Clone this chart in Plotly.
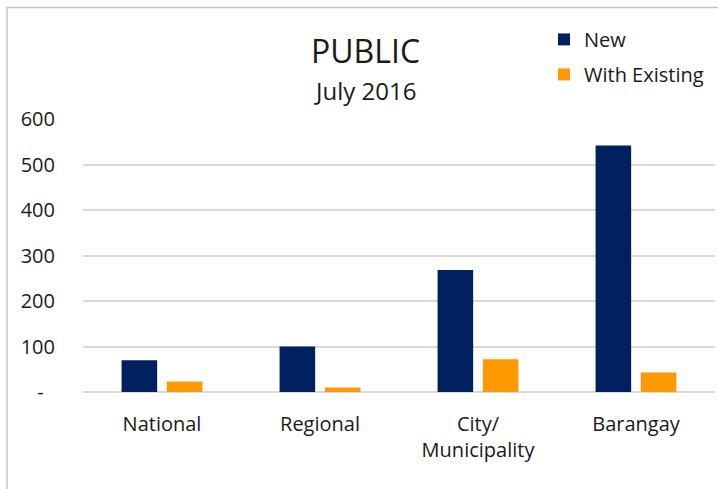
import plotly.graph_objects as go

categories = ["National", "Regional", "City/<br>Municipality", "Barangay"]
new_values = [70, 100, 268, 542]
existing_values = [23, 10, 72, 43]
tick_vals = [0, 100, 200, 300, 400, 500, 600]
tick_text = ["-\u2007", "100", "200", "300", "400", "500", "600"]

FONT = "Open Sans"
TXT = "#1a1a1a"

fig = go.Figure()
fig.add_trace(go.Bar(x=categories, y=new_values, name="New",
                     marker=dict(color="#002060", line=dict(width=0)),
                     legendgroup="a"))
fig.add_trace(go.Bar(x=categories, y=existing_values, name="With Existing",
                     marker=dict(color="#FF9900", line=dict(width=0)),
                     legendgroup="b"))

L, R, T, B = 83, 3, 118.7, 97
W, H = 718, 489
pw = W - L - R
ph = H - T - B

def px_x(x):
    return (x - L) / pw

def px_y(y):
    return (H - B - y) / ph

fig.update_layout(
    width=W, height=H,
    margin=dict(l=L, r=R, t=T, b=B, pad=0),
    paper_bgcolor="white", plot_bgcolor="white",
    barmode="group", bargap=0.427, bargroupgap=0.214,
    font=dict(family=FONT, size=20, color=TXT),
    showlegend=True,
    legend=dict(x=px_x(544), y=px_y(19.5), xanchor="left", yanchor="top",
                font=dict(family=FONT, size=20, color=TXT),
                traceorder="grouped", tracegroupgap=6,
                bgcolor="rgba(0,0,0,0)", itemwidth=30),
    xaxis=dict(showgrid=False, showline=False, ticks="",
               tickfont=dict(family=FONT, size=20, color=TXT),
               ticklabelstandoff=18, fixedrange=True),
    yaxis=dict(range=[0, 600], tickvals=tick_vals, ticktext=tick_text,
               showgrid=True, gridcolor="#d9d9d9", gridwidth=1.5,
               zeroline=True, zerolinecolor="#d9d9d9", zerolinewidth=1.5,
               showline=False, ticks="",
               tickfont=dict(family=FONT, size=20, color=TXT),
               ticklabelstandoff=27, fixedrange=True),
    annotations=[
        dict(text="PUBLIC", x=px_x(365), y=px_y(50), xref="paper", yref="paper",
             showarrow=False, xanchor="center", yanchor="middle",
             font=dict(family=FONT, size=32, color=TXT)),
        dict(text="July 2016", x=px_x(365), y=px_y(90), xref="paper", yref="paper",
             showarrow=False, xanchor="center", yanchor="middle",
             font=dict(family=FONT, size=24, color=TXT)),
    ],
    shapes=[
        dict(type="rect", xref="paper", yref="paper",
             x0=px_x(7), x1=px_x(740), y0=px_y(510), y1=px_y(7),
             line=dict(color="#c4c4c4", width=1.5), fillcolor="rgba(0,0,0,0)",
             layer="below"),
    ],
)

fig.write_html("out.html", config={"displayModeBar": False},
               post_script="document.body.style.margin='0';document.body.style.padding='0';")
